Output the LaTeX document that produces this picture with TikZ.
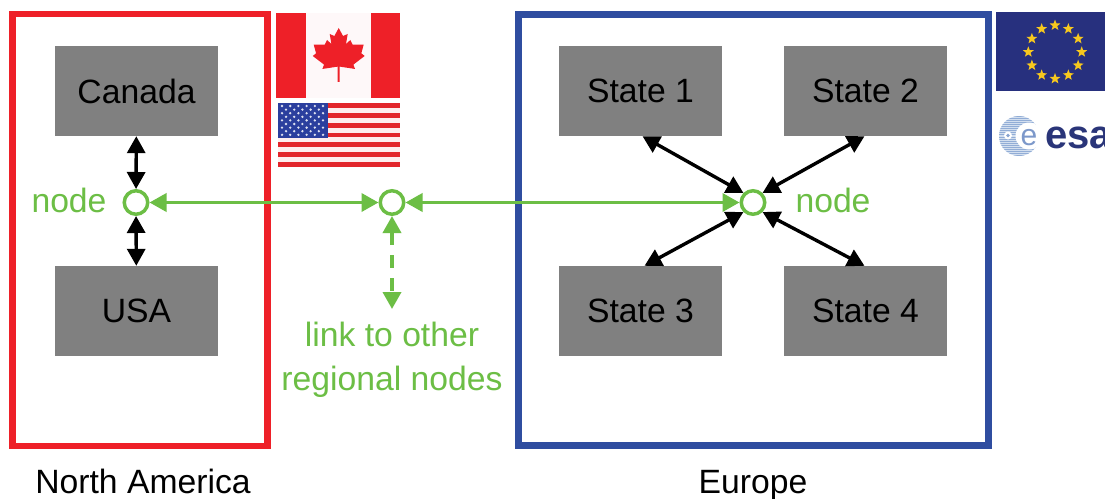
\documentclass[tikz,border=0pt]{standalone}
\usepackage{fontspec}
\setmainfont{Liberation Sans}
\usetikzlibrary{arrows.meta,shapes.geometric}
\definecolor{lgreen}{HTML}{6CBE45}
\definecolor{lred}{HTML}{EE2028}
\definecolor{lblue}{HTML}{2F4DA0}
\definecolor{lgray}{HTML}{808080}
\definecolor{usred}{HTML}{E2262B}
\definecolor{usblue}{HTML}{2B3F9E}
\definecolor{eublue}{HTML}{27307E}
\definecolor{eustar}{HTML}{F7C81E}
\definecolor{esanavy}{HTML}{2A3579}
\definecolor{esalight}{HTML}{9DB8DC}
\tikzset{
  x=1pt,y=-1pt,
  lbl/.style={font=\fontsize{33.7}{44}\selectfont,inner sep=0pt},
  state/.style={fill=lgray,minimum width=163pt,minimum height=90pt,inner sep=0pt,font=\fontsize{33.7}{44}\selectfont,text=black},
  frame/.style={draw,line width=6.5pt,inner sep=0pt,fill=white},
  hub/.style={circle,draw=lgreen,line width=3.5pt,fill=white,minimum size=23.5pt,inner sep=0pt},
  blk/.style={line width=3.4pt,black,{Triangle[length=17pt,width=18pt]}-{Triangle[length=17pt,width=18pt]}},
  grn/.style={line width=3.6pt,lgreen,{Triangle[length=17pt,width=18pt]}-{Triangle[length=17pt,width=18pt]}},
  grnlbl/.style={lbl,text=lgreen},
  eustarshape/.style={star,star points=5,star point ratio=2.4,fill=eustar,minimum size=11.5pt,inner sep=0pt}
}
\begin{document}
\begin{tikzpicture}
\clip (0,0) rectangle (1105,498);
\fill[white] (0,0) rectangle (1105,498);
% frames
\node[frame,draw=lred,minimum width=255pt,minimum height=432pt] (na) at (140,230) {};
\node[frame,draw=lblue,minimum width=470pt,minimum height=431pt] (eu) at (753.5,230) {};
% Canada flag
\fill[lred] (276,13) rectangle (400,98);
\fill[white!97!lred] (306,13) rectangle (371,98);
\begin{scope}[shift={(338.7,22)},x=0.333pt,y=-0.333pt]
\fill[lred] (0,18)--(13,42)--(27,36)--(22,66)--(35,54)--(42,68)--(75,68)--(68,94)--(78,102)--(44,128)--(49,141)--(3,134)--(3,180)--(-3,180)--(-3,134)--(-49,141)--(-44,128)--(-78,102)--(-68,94)--(-75,68)--(-42,68)--(-35,54)--(-22,66)--(-27,36)--(-13,42)--cycle;
\end{scope}
% US flag
\fill[white!92!usred] (278,103) rectangle (400,167);
\foreach \i in {0,...,6}
  \fill[usred] (278,{103+\i*9.85}) rectangle (400,{103+\i*9.85+4.9});
\fill[usblue] (278,103) rectangle (328,138);
\foreach \r in {0,2,4,6,8} \foreach \c in {0,...,5}
  \fill[white!85!usblue] ({282+\c*8.2},{106+\r*3.6}) circle (1.3);
\foreach \r in {1,3,5,7} \foreach \c in {0,...,4}
  \fill[white!85!usblue] ({286+\c*8.2},{106+\r*3.6}) circle (1.3);
% EU flag
\fill[eublue] (996,12) rectangle (1105,91);
\foreach \a in {0,30,...,330}
  \node[eustarshape] at ({1055+26.7*cos(\a)},{52-26.7*sin(\a)}) {};
% ESA logo
\begin{scope}
\clip (1019,136) circle (20);
\fill[esalight!45!white] (998,116) rectangle (1040,156);
\foreach \k in {0,...,19}
  \draw[esalight!90!lblue,line width=0.9pt] (998,{116+\k*2.1}) -- (1040,{116+\k*2.1});
\end{scope}
\fill[white] (1029,136) circle (13.5);
\fill[white] (1008,135.5) circle (4);
\fill[esalight!80!lblue] (1008,135.5) circle (1.8);
\node[anchor=base,inner sep=0pt,text=esalight!70!lblue,font=\fontsize{30}{30}\selectfont] (esae) at (1029,145) {e};
\node[anchor=base west,inner sep=0pt,text=esanavy,font=\bfseries\fontsize{40}{44}\selectfont] (esa) at (1045,148) {esa};
% boxes
\node[state] (can) at (136.5,91) {Canada};
\node[state,text depth=0pt] (usa) at (136.5,311) {USA};
\node[state] (s1) at (640.5,91) {State 1};
\node[state] (s2) at (865.5,91) {State 2};
\node[state] (s3) at (640.5,311) {State 3};
\node[state] (s4) at (865.5,311) {State 4};
% hubs
\node[hub] (n1) at (136,202.5) {};
\node[hub] (n2) at (392,202.5) {};
\node[hub] (n3) at (753,202.5) {};
\coordinate (lnk) at (392,309);
% connectors
\draw[blk] (can) -- (n1);
\draw[blk] (usa) -- (n1);
\draw[blk] ([xshift=2pt]s1.south) -- (n3.135);
\draw[blk] ([xshift=-1pt]s2.south) -- (n3.45);
\draw[blk] ([xshift=4pt]s3.north) -- (n3.225);
\draw[blk] ([xshift=-1pt]s4.north) -- (n3.315);
\draw[grn] (n1) -- (n2);
\draw[grn] (n2) -- (n3);
\draw[grn,dash pattern=on 13pt off 10pt] (n2) -- (lnk);
% labels
\node[grnlbl,anchor=base] (lbl1) at (69,212) {node};
\node[grnlbl,anchor=base] (lbl2) at (833,212) {node};
\node[grnlbl,anchor=base,align=center] (lbl3) at (392,390) {link to other\\regional nodes};
\node[lbl,anchor=base] (lbl4) at (143,493) {North America};
\node[lbl,anchor=base] (lbl5) at (753,493) {Europe};
\end{tikzpicture}
\end{document}
